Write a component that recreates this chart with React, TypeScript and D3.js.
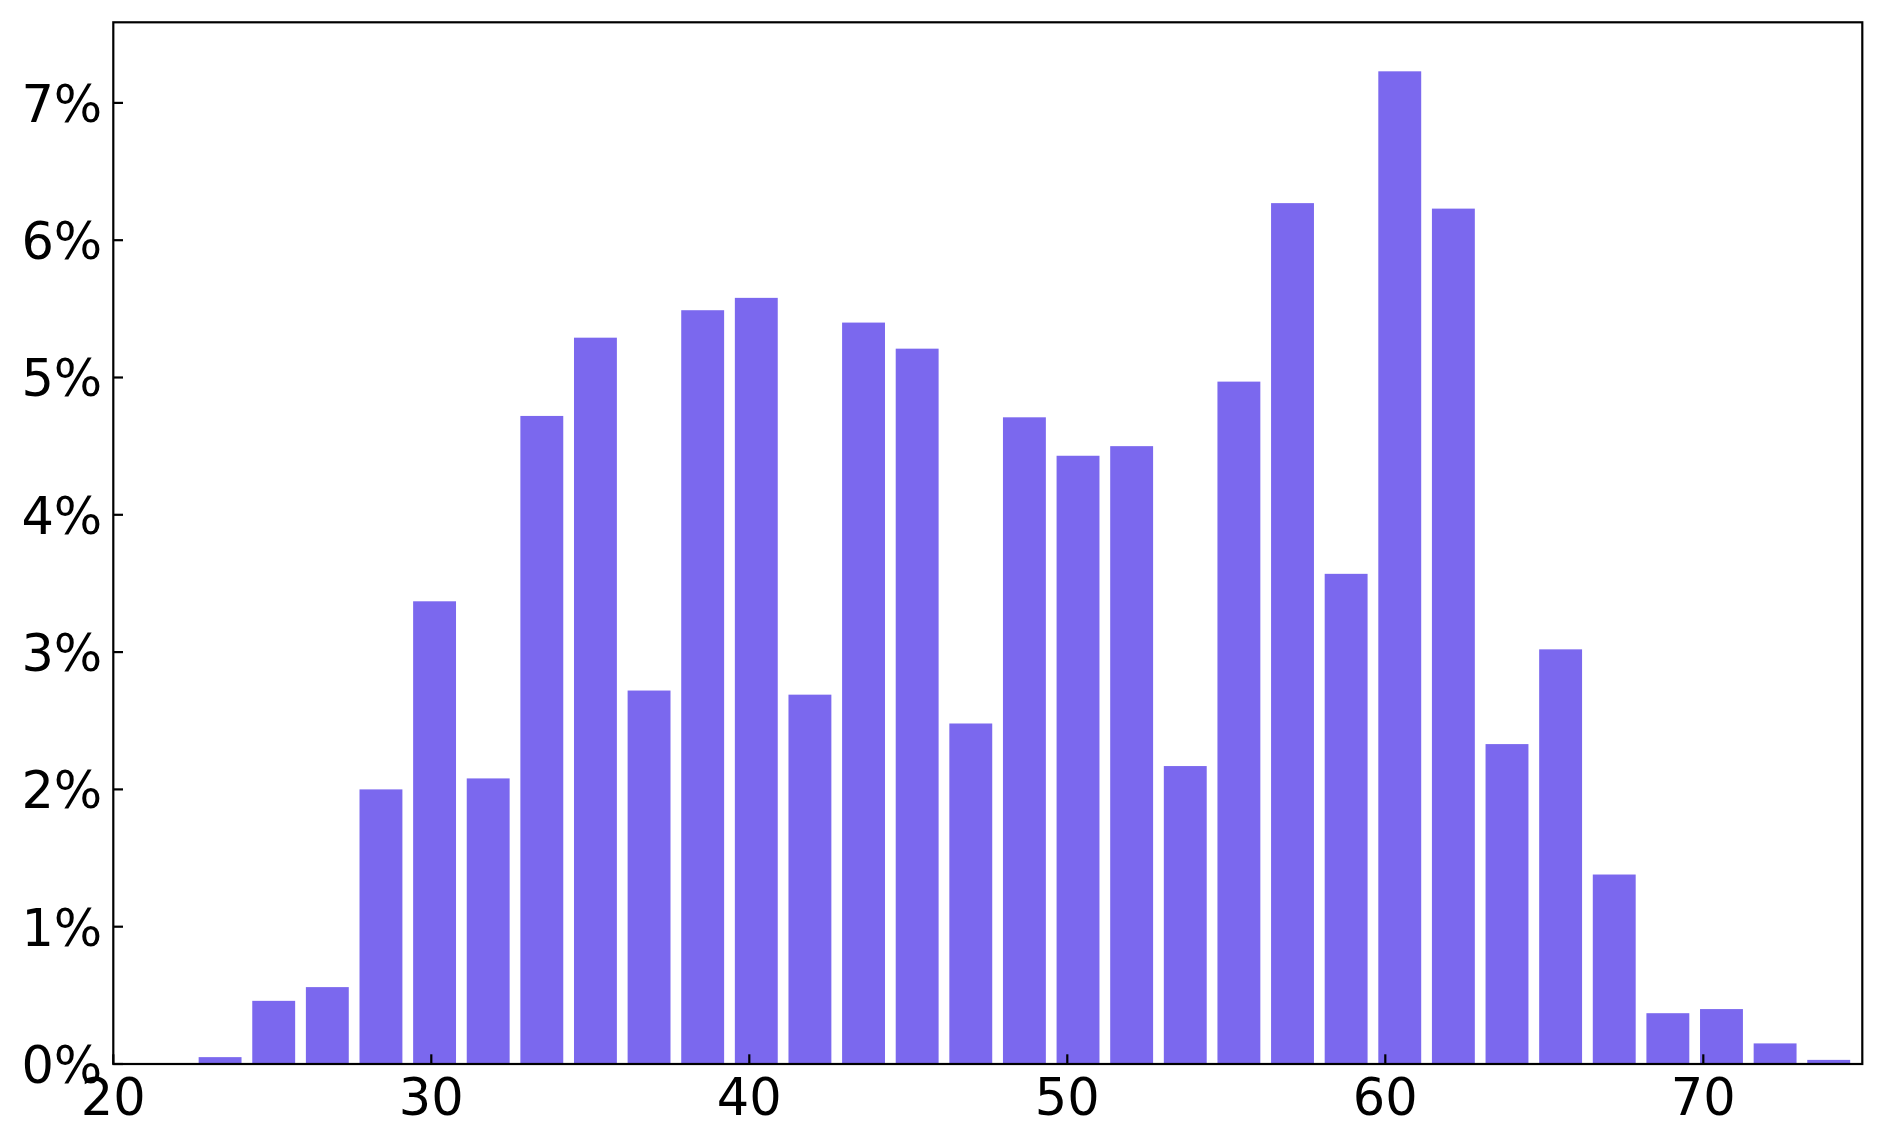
import React from 'react';
import * as d3 from 'd3';

// Histogram bins (left edge of first bin, common bin width) and share per bin in percent
const BIN_START = 22.515;
const BIN_WIDTH = 1.6862;
const SHARE_PCT = [
  0.05, 0.46, 0.56, 2.0, 3.37, 2.08, 4.72, 5.29, 2.72, 5.49, 5.58,
  2.69, 5.4, 5.21, 2.48, 4.71, 4.43, 4.5, 2.17, 4.97, 6.27, 3.57,
  7.23, 6.23, 2.33, 3.02, 1.38, 0.37, 0.4, 0.15, 0.03,
];
const X_TICKS = [20, 30, 40, 50, 60, 70];
const Y_TICKS = [0, 1, 2, 3, 4, 5, 6, 7];
const X_DOMAIN = [20, 75];
const Y_DOMAIN = [0, 7.587];

const W = 1885;
const H = 1147;
const LEFT = 113.3;
const RIGHT = 1862.3;
const TOP = 22.3;
const BOTTOM = 1064;
const BAR_COLOR = '#7B68EE';
const FONT = 'DejaVu Sans, sans-serif';
const FS = 51;
const TICK_LEN = 9.7;
const LW = 2.2;

export default function App() {
  const x = d3.scaleLinear().domain(X_DOMAIN).range([LEFT, RIGHT]);
  const y = d3.scaleLinear().domain(Y_DOMAIN).range([BOTTOM, TOP]);
  const rwidth = 0.8;

  return (
    <svg
      width={W}
      height={H}
      viewBox={`0 0 ${W} ${H}`}
      style={{ position: 'absolute', left: 0, top: 0, display: 'block', background: '#fff' }}
    >
      <rect x={0} y={0} width={W} height={H} fill="#fff" />
      <g>
        {SHARE_PCT.map((v, i) => {
          const b0 = BIN_START + i * BIN_WIDTH;
          const left = b0 + ((1 - rwidth) / 2) * BIN_WIDTH;
          const right = left + rwidth * BIN_WIDTH;
          return (
            <rect
              key={i}
              x={x(left)}
              y={y(v)}
              width={x(right) - x(left)}
              height={y(0) - y(v)}
              fill={BAR_COLOR}
            />
          );
        })}
      </g>
      {/* ticks (inward) */}
      <g stroke="#000" strokeWidth={LW}>
        {Y_TICKS.map((t) => (
          <line key={'yt' + t} x1={LEFT} x2={LEFT + TICK_LEN} y1={y(t)} y2={y(t)} />
        ))}
        {X_TICKS.map((t) => (
          <line key={'xt' + t} x1={x(t)} x2={x(t)} y1={BOTTOM} y2={BOTTOM - TICK_LEN} />
        ))}
      </g>
      {/* spines */}
      <rect
        x={LEFT}
        y={TOP}
        width={RIGHT - LEFT}
        height={BOTTOM - TOP}
        fill="none"
        stroke="#000"
        strokeWidth={LW}
      />
      {/* tick labels */}
      <g fontFamily={FONT} fontSize={FS} fill="#000">
        {Y_TICKS.map((t) => (
          <text key={'yl' + t} x={LEFT - 11} y={y(t) + 19} textAnchor="end">
            {`${t}%`}
          </text>
        ))}
        {X_TICKS.map((t) => (
          <text key={'xl' + t} x={x(t)} y={BOTTOM + 51} textAnchor="middle">
            {t}
          </text>
        ))}
      </g>
    </svg>
  );
}
